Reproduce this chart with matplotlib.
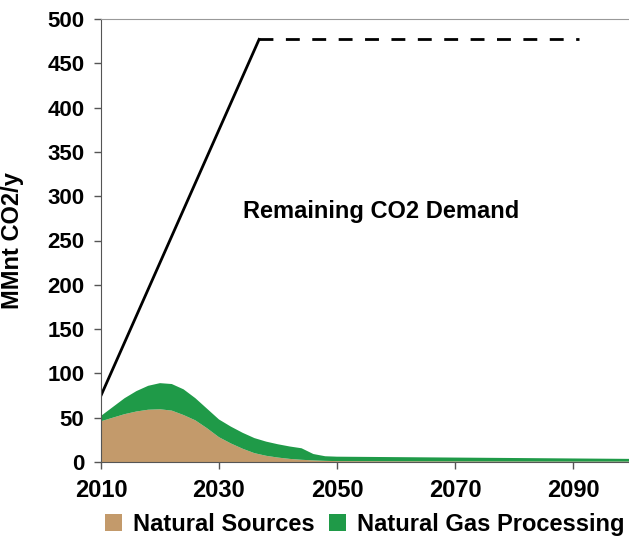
import matplotlib.pyplot as plt
import numpy as np

plt.rcParams['font.family'] = ['Liberation Sans', 'DejaVu Sans']
plt.rcParams['font.weight'] = 'bold'

years = [2010, 2012, 2014, 2016, 2018, 2020, 2022, 2024, 2026, 2028, 2030,
         2032, 2034, 2036, 2038, 2040, 2042, 2044, 2046, 2048, 2050,
         2060, 2070, 2080, 2090, 2100]
natural = [46, 50, 54, 57, 59, 59.5, 58, 53, 47, 38, 28,
           21, 15, 10, 7, 5, 3.5, 2.5, 1.8, 1.3, 1.0,
           0.8, 0.7, 0.6, 0.5, 0.5]
total = [52, 62, 72, 80, 86, 89, 88, 82, 72, 60, 48,
         40, 33, 27, 23, 20, 17.5, 15.5, 9, 6.5, 6,
         5.5, 5, 4.5, 4, 3.5]
gas = [t - n for t, n in zip(total, natural)]

demand_years = [2010, 2036.8]
demand_vals = [75, 477]
flat_years = [2036.8, 2091]
flat_vals = [477, 477]

tan = '#C39A6B'
green = '#1F9A48'

fig = plt.figure(figsize=(6.29, 5.36), dpi=100)
ax = fig.add_axes([101/629, 1 - 462/536, 528/629, 443/536])

ax.stackplot(years, natural, gas, colors=[tan, green],
             labels=['Natural Sources', 'Natural Gas Processing'])
ax.plot(demand_years, demand_vals, color='k', lw=2)
ax.plot(flat_years, flat_vals, color='k', lw=2, ls=(0, (5, 4.5)))

ax.text(2057.5, 283, 'Remaining CO2 Demand', ha='center', va='center',
        fontsize=17, fontweight='bold')

ax.set_xlim(2010, 2099.5)
ax.set_ylim(0, 500)
ax.set_xticks([2010, 2030, 2050, 2070, 2090])
ax.set_yticks(range(0, 501, 50))
ax.tick_params(axis='x', labelsize=17, length=5, width=1, color='#555555', pad=7)
ax.tick_params(axis='y', labelsize=16, length=5, width=1, color='#555555', pad=7)
ax.set_ylabel('MMnt CO2/y', fontsize=17, fontweight='bold')
ax.yaxis.set_label_coords(-0.146, 0.5)

ax.spines['right'].set_visible(False)
ax.spines['top'].set_color('#999999')
ax.spines['left'].set_color('#555555')
ax.spines['bottom'].set_color('#555555')

ax.legend(loc='center', bbox_to_anchor=(0.5, -0.14), ncol=2,
          frameon=False, fontsize=17, handlelength=0.7, handleheight=0.7,
          columnspacing=0.6, handletextpad=0.5, borderaxespad=0)

fig.savefig('out.png', dpi=100)
